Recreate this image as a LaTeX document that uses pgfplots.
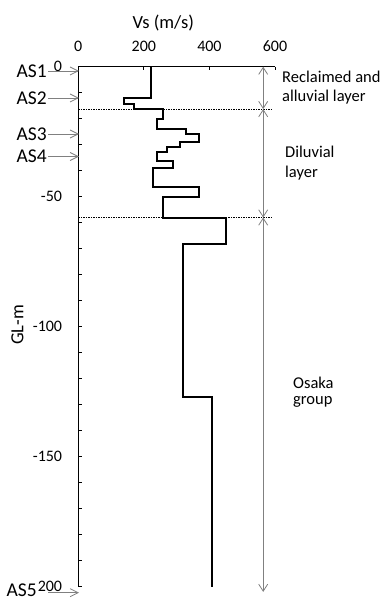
\documentclass[border=0pt]{standalone}
\usepackage{pgfplots}
\pgfplotsset{compat=1.18}
\usepackage{fontspec}
\setmainfont{Carlito}
\usetikzlibrary{arrows.meta}
\definecolor{arrgray}{RGB}{128,128,128}
\begin{document}
\begin{tikzpicture}[x=1bp,y=1bp, font=\fontsize{16.5bp}{19bp}\selectfont]
\path[use as bounding box] (0,0) rectangle (382,-601);
\begin{axis}[
  at={(78.3bp,-66.7bp)}, anchor=north west,
  scale only axis, width=196.7bp, height=520bp,
  xmin=0, xmax=600, ymin=-200, ymax=0,
  axis x line=top, axis y line=left,
  axis line style={-, line width=1.3bp, black},
  tick align=inside,
  major tick length=3.5bp, minor tick length=3.5bp,
  tick style={line width=0.8bp, black},
  xtick={0,200,400,600},
  ytick={-200,-150,-100,-50,0},
  yticklabels={200,-150,-100,-50,0},
  minor y tick num=4,
  /pgf/number format/assume math mode=true,
  xticklabel style={anchor=south, inner sep=0pt, yshift=14.5bp, font=\fontsize{16bp}{19bp}\selectfont},
  yticklabel style={anchor=east, inner sep=0pt, xshift=-16bp, font=\fontsize{16bp}{19bp}\selectfont},
  clip=false,
]
\addplot[black, line width=2bp, line join=miter] coordinates {
(221,0) (221,-12) (139,-12) (139,-14.4) (170,-14.4) (170,-16.3) (259,-16.3)
(259,-20) (239,-20) (239,-24) (328,-24) (328,-26) (369,-26) (369,-29)
(310,-29) (310,-31) (270,-31) (270,-32.7) (239,-32.7) (239,-36.2) (288,-36.2)
(288,-39.1) (229,-39.1) (229,-46.4) (369,-46.4) (369,-50) (259,-50) (259,-58)
(451,-58) (451,-68.2) (318,-68.2) (318,-127) (409,-127) (409,-200)
};
\draw[black, line width=0.8bp, dash pattern=on 1.5bp off 1bp] (axis cs:0,-16.3) -- (axis cs:594,-16.3);
\draw[black, line width=0.8bp, dash pattern=on 1.5bp off 1bp] (axis cs:0,-58) -- (axis cs:594,-58);
\tikzset{gb/.style={arrgray, line width=0.8bp, {Straight Barb[length=7bp,width=9bp]}-{Straight Barb[length=7bp,width=9bp]}}}
\draw[gb] (axis cs:564,0) -- (axis cs:564,-16.3);
\draw[gb] (axis cs:564,-16.3) -- (axis cs:564,-58);
\draw[gb] (axis cs:564,-58) -- (axis cs:564,-202);
\end{axis}
% title and labels
\node[anchor=base, inner sep=0pt, font=\fontsize{18.5bp}{21bp}\selectfont] at (163.3,-28.3) {Vs (m/s)};
\node[rotate=90, inner sep=0pt, font=\fontsize{18.5bp}{21bp}\selectfont] at (17.5,-325) {GL-m};
% layer names
\node[anchor=base west, inner sep=0pt] at (282,-83) {Reclaimed and};
\node[anchor=base west, inner sep=0pt] at (282,-102) {alluvial layer};
\node[anchor=base west, inner sep=0pt] at (285,-158) {Diluvial};
\node[anchor=base west, inner sep=0pt] at (285,-178) {layer};
\node[anchor=base west, inner sep=0pt] at (293,-388) {Osaka};
\node[anchor=base west, inner sep=0pt] at (293,-404) {group};
% sensor labels
\foreach \yy/\lab in {-71/AS1, -98/AS2, -134/AS3, -156.5/AS4}{
  \draw[arrgray, line width=0.8bp, -{Straight Barb[length=8bp,width=8bp]}] (48,\yy) -- (79,\yy);
  \node[anchor=east, inner sep=0pt, font=\fontsize{19.5bp}{22bp}\selectfont] at (47,\yy) {\lab};
}
\draw[arrgray, line width=0.8bp, -{Straight Barb[length=8bp,width=8bp]}] (48,-592.7) -- (79,-592.7);
\node[anchor=base east, inner sep=0pt, font=\fontsize{19.5bp}{22bp}\selectfont] at (37,-596.5) {AS5};
\end{tikzpicture}
\end{document}
